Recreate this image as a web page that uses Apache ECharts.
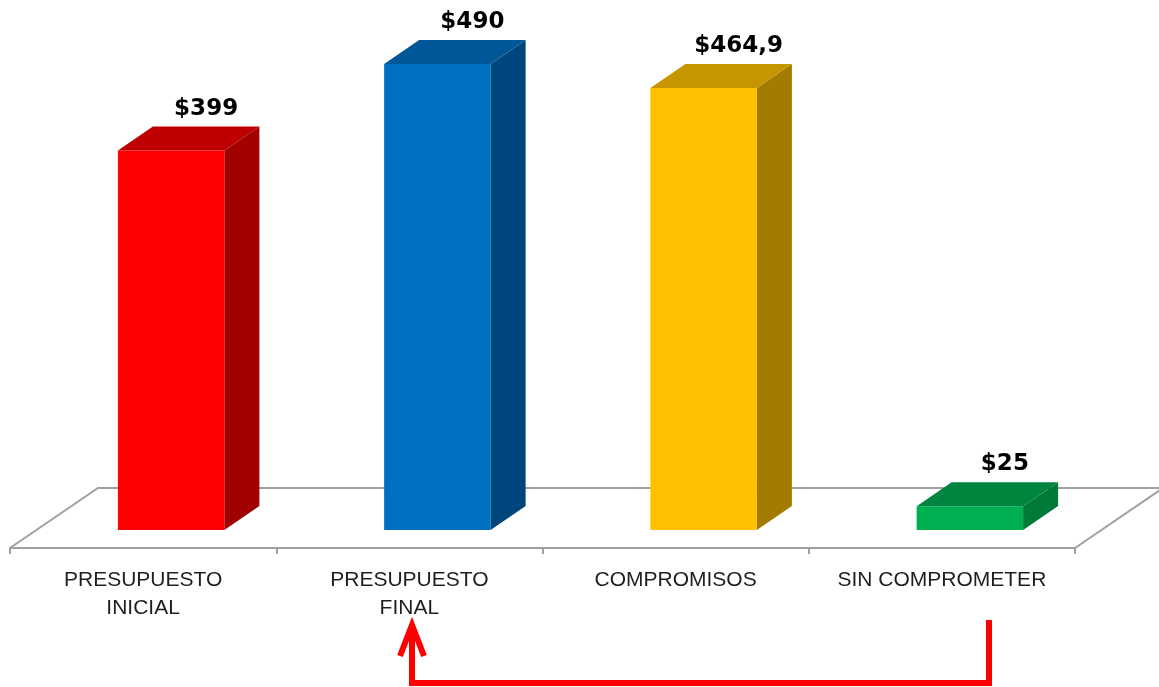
<!DOCTYPE html>
<html>
<head>
<meta charset="utf-8">
<title>Presupuesto</title>
<script src="https://cdn.jsdelivr.net/npm/echarts@6/dist/echarts.min.js"></script>
<style>
  html, body { margin: 0; padding: 0; background: #fff; }
  #chart { width: 1159px; height: 687px; }
</style>
</head>
<body>
<div id="chart"></div>
<script>
  // datos del grafico
  var categories = ['PRESUPUESTO\nINICIAL', 'PRESUPUESTO\nFINAL', 'COMPROMISOS', 'SIN COMPROMETER'];
  var values = [399, 490, 464.9, 25];
  var valueLabels = ['$399', '$490', '$464,9', '$25'];

  var frontColors = ['#FF0000', '#0070C0', '#FFC000', '#00B050'];
  var sideColors = ['#A00000', '#00467E', '#A37B00', '#007A36'];
  var topColors = ['#C00000', '#005797', '#C79500', '#008540'];

  var OFF_X = 28, OFF_Y = -18;     // barra colocada a media profundidad del piso
  var DX = 35, DY = -24;           // profundidad de cada barra
  var FLOOR_DX = 88, FLOOR_DY = -60;
  var GREY = '#a0a0a0';

  function renderFloor(params, api) {
    var cs = params.coordSys;
    var yb = cs.y + cs.height;
    return {
      type: 'polyline',
      shape: {
        points: [
          [cs.x, yb],
          [cs.x + FLOOR_DX, yb + FLOOR_DY],
          [cs.x + cs.width + FLOOR_DX, yb + FLOOR_DY],
          [cs.x + cs.width, yb]
        ]
      },
      style: { stroke: GREY, lineWidth: 2, fill: null }
    };
  }

  function renderBar(params, api) {
    var i = api.value(0);
    var base = api.coord([i, 0]);
    var top = api.coord([i, api.value(1)]);
    var w = api.size([1, 0])[0] * 0.4;
    var x0 = base[0] - w / 2 + OFF_X, x1 = x0 + w;
    var y0 = base[1] + OFF_Y, y1 = top[1] + OFF_Y;
    return {
      type: 'group',
      children: [
        {
          type: 'rect',
          shape: { x: x0, y: y1, width: w, height: y0 - y1 },
          style: { fill: frontColors[i] }
        },
        {
          type: 'polygon',
          shape: { points: [[x1, y0], [x1, y1], [x1 + DX, y1 + DY], [x1 + DX, y0 + DY]] },
          style: { fill: sideColors[i] }
        },
        {
          type: 'polygon',
          shape: { points: [[x0, y1], [x1, y1], [x1 + DX, y1 + DY], [x0 + DX, y1 + DY]] },
          style: { fill: topColors[i] }
        },
        {
          type: 'text',
          style: {
            x: (x0 + x1) / 2 + DX,
            y: y1 + DY - 18,
            text: valueLabels[i],
            fill: '#000',
            font: 'bold 23px "DejaVu Sans"',
            align: 'center',
            verticalAlign: 'middle'
          }
        }
      ]
    };
  }

  var chart = echarts.init(document.getElementById('chart'));
  var option = {
    animation: false,
    grid: { left: 10, right: 84, top: 25, bottom: 139 },
    xAxis: {
      type: 'category',
      data: categories,
      axisLine: { lineStyle: { color: GREY, width: 2 } },
      axisTick: { show: true, length: 6, lineStyle: { color: GREY, width: 2 } },
      axisLabel: {
        color: '#1f1f1f',
        fontSize: 21,
        fontFamily: 'Liberation Sans',
        lineHeight: 28,
        margin: 18,
        interval: 0
      }
    },
    yAxis: {
      type: 'value',
      min: 0,
      max: 550,
      show: false,
      splitLine: { show: false }
    },
    series: [
      {
        type: 'custom',
        renderItem: renderFloor,
        data: [[0, 0]],
        clip: false,
        silent: true,
        z: 1
      },
      {
        type: 'custom',
        renderItem: renderBar,
        data: values.map(function (v, i) { return [i, v]; }),
        encode: { x: 0, y: 1 },
        clip: false,
        z: 2
      }
    ],
    graphic: [
      {
        type: 'polyline',
        shape: { points: [[989, 620], [989, 683], [412, 683], [412, 628]] },
        style: { stroke: '#FF0000', lineWidth: 6, fill: null }
      },
      {
        type: 'polyline',
        shape: { points: [[400, 656], [412, 625], [424, 656]] },
        style: { stroke: '#FF0000', lineWidth: 6, fill: null, lineJoin: 'miter' }
      }
    ]
  };
  chart.setOption(option);
</script>
</body>
</html>
